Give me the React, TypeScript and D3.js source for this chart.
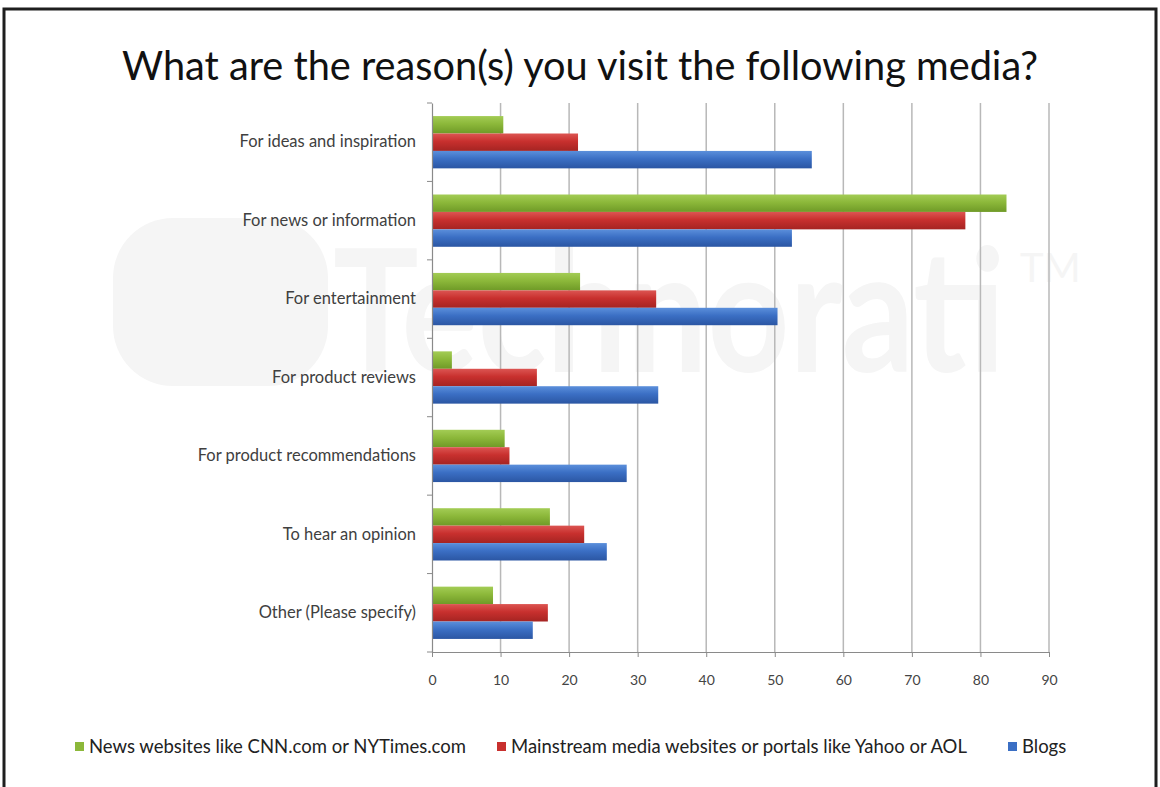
import React from 'react';
import * as d3 from 'd3';

const categories = [
  'For ideas and inspiration',
  'For news or information',
  'For entertainment',
  'For product reviews',
  'For product recommendations',
  'To hear an opinion',
  'Other (Please specify)',
];

const seriesNames = [
  'News websites like CNN.com or NYTimes.com',
  'Mainstream media websites or portals like Yahoo or AOL',
  'Blogs',
];

const newsSites = [10.4, 83.8, 21.6, 2.9, 10.6, 17.2, 8.9];
const mainstream = [21.3, 77.8, 32.7, 15.3, 11.3, 22.2, 16.9];
const blogs = [55.4, 52.5, 50.4, 33.0, 28.4, 25.5, 14.7];

const xTicks = [0, 10, 20, 30, 40, 50, 60, 70, 80, 90];

const colors = [
  {id: 'g-green', light: '#a3cc55', base: '#8cb83a', dark: '#6f9a27'},
  {id: 'g-red', light: '#dc5552', base: '#c8302e', dark: '#a52422'},
  {id: 'g-blue', light: '#5b8fdb', base: '#3b6fc4', dark: '#2b56a3'},
];

const FONT = 'Lato, "Open Sans", sans-serif';

export default class App extends React.Component {
  svgRef = React.createRef<SVGSVGElement>();

  sizing = {
    width: 1160,
    height: 787,
    left: 432,
    right: 1049,
    top: 103,
    bottom: 652,
  };

  setupDom(): void {
    const svgNode = this.svgRef.current;
    if (!svgNode) return;
    const svg = d3.select(svgNode);
    svg.selectAll('*').remove();
    const s = this.sizing;

    const values = [newsSites, mainstream, blogs];

    const xScale = d3.scaleLinear().domain([0, 90]).range([s.left, s.right]);
    const yScale = d3.scaleBand<string>().domain(categories).range([s.top, s.bottom]).padding(0);
    const inner = d3.scaleBand<number>()
      .domain([0, 1, 2])
      .range([0, yScale.bandwidth()])
      .paddingInner(0)
      .paddingOuter(0.75);

    const defs = svg.append('defs');
    colors.forEach(c => {
      const grad = defs.append('linearGradient')
        .attr('id', c.id)
        .attr('x1', 0).attr('y1', 0).attr('x2', 0).attr('y2', 1);
      grad.append('stop').attr('offset', '0%').attr('stop-color', c.light);
      grad.append('stop').attr('offset', '45%').attr('stop-color', c.base);
      grad.append('stop').attr('offset', '100%').attr('stop-color', c.dark);
    });

    // background + frame
    svg.append('rect')
      .attr('width', s.width).attr('height', s.height)
      .attr('fill', '#ffffff');
    svg.append('path')
      .attr('d', `M4,${s.height} L4,9 L1156,9 L1156,${s.height}`)
      .attr('fill', 'none')
      .attr('stroke', '#1e1e1e')
      .attr('stroke-width', 3);

    // faint watermark
    const wm = svg.append('g').attr('fill', '#f5f5f5');
    wm.append('rect')
      .attr('x', 113).attr('y', 218).attr('width', 215).attr('height', 168)
      .attr('rx', 60);
    wm.append('text')
      .attr('x', 333).attr('y', 372)
      .attr('font-family', FONT)
      .attr('font-size', 170)
      .attr('font-weight', 700)
      .attr('textLength', 672)
      .attr('lengthAdjust', 'spacingAndGlyphs')
      .text('Technorati');
    wm.append('text')
      .attr('x', 1020).attr('y', 282)
      .attr('font-family', FONT)
      .attr('font-size', 40)
      .text('TM');

    // title
    svg.append('text')
      .attr('x', 580).attr('y', 80)
      .attr('text-anchor', 'middle')
      .attr('font-family', FONT)
      .attr('font-size', 40)
      .attr('fill', '#111')
      .attr('textLength', 916)
      .attr('lengthAdjust', 'spacingAndGlyphs')
      .text('What are the reason(s) you visit the following media?');

    // gridlines
    svg.append('g')
      .selectAll('line')
      .data(xTicks.slice(1))
      .enter().append('line')
      .attr('x1', d => xScale(d)).attr('x2', d => xScale(d))
      .attr('y1', s.top).attr('y2', s.bottom)
      .attr('stroke', '#b8b8b8')
      .attr('stroke-width', 1.5);

    // bars
    values.forEach((vals, si) => {
      svg.append('g')
        .selectAll('rect')
        .data(vals)
        .enter().append('rect')
        .attr('x', xScale(0))
        .attr('y', (_d, i) => (yScale(categories[i]) as number) + (inner(si) as number))
        .attr('width', d => xScale(d) - xScale(0))
        .attr('height', inner.bandwidth())
        .attr('fill', `url(#${colors[si].id})`);
    });

    // x axis
    const xAxis = svg.append('g')
      .attr('transform', `translate(0, ${s.bottom})`)
      .call(d3.axisBottom(xScale).tickValues(xTicks).tickSize(5).tickPadding(18).tickSizeOuter(0));
    xAxis.select('.domain').attr('stroke', '#8a8a8a').attr('stroke-width', 1.2);
    xAxis.selectAll('.tick line').attr('stroke', '#8a8a8a');
    xAxis.selectAll('.tick text')
      .attr('font-family', FONT)
      .attr('font-size', 14)
      .attr('fill', '#444');

    // y axis
    const yAxis = svg.append('g')
      .attr('transform', `translate(${s.left}, 0)`)
      .call(d3.axisLeft(yScale).tickSize(0).tickPadding(16).tickSizeOuter(0));
    yAxis.select('.domain').attr('stroke', '#8a8a8a').attr('stroke-width', 1.2);
    yAxis.selectAll('.tick text')
      .attr('font-family', FONT)
      .attr('font-size', 16.5)
      .attr('fill', '#404040');
    // category boundary ticks
    svg.append('g')
      .selectAll('line')
      .data(d3.range(categories.length + 1))
      .enter().append('line')
      .attr('x1', s.left - 5).attr('x2', s.left)
      .attr('y1', i => s.top + i * yScale.step())
      .attr('y2', i => s.top + i * yScale.step())
      .attr('stroke', '#8a8a8a');

    // legend
    const legendItems = [
      {x: 75, name: seriesNames[0]},
      {x: 497, name: seriesNames[1]},
      {x: 1008, name: seriesNames[2]},
    ];
    const legend = svg.append('g');
    legendItems.forEach((item, i) => {
      legend.append('rect')
        .attr('x', item.x).attr('y', 742)
        .attr('width', 9).attr('height', 9)
        .attr('fill', colors[i].base);
      legend.append('text')
        .attr('x', item.x + 14).attr('y', 753)
        .attr('font-family', FONT)
        .attr('font-size', 18.5)
        .attr('fill', '#222')
        .text(item.name);
    });
  }

  componentDidMount(): void {
    this.setupDom();
  }

  render(): React.ReactNode {
    return (
      <svg
        ref={this.svgRef}
        width={this.sizing.width}
        height={this.sizing.height}
        style={{position: 'absolute', left: 0, top: 0}}
      />
    );
  }
}
